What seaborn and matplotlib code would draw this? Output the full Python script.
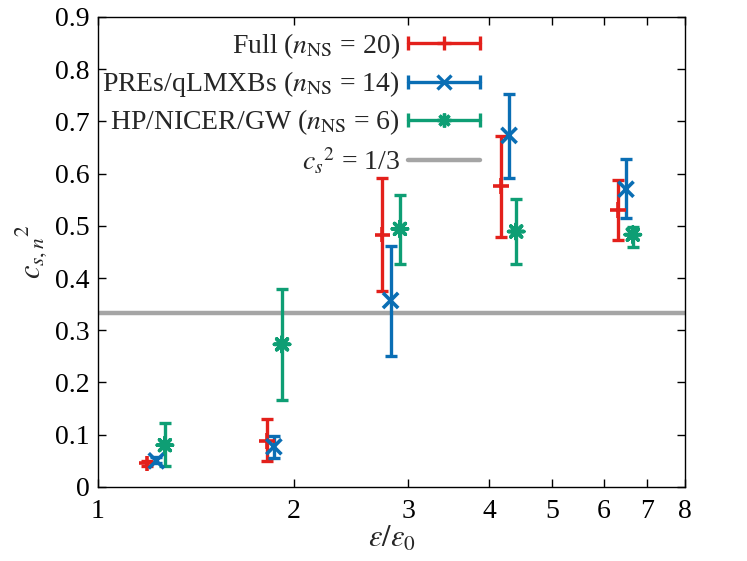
import numpy as np
import pandas as pd
import matplotlib
matplotlib.use("Agg")
import matplotlib.pyplot as plt
import seaborn as sns
from matplotlib.lines import Line2D
from matplotlib.legend_handler import HandlerLine2D, HandlerTuple

# ---------------- data ----------------
series = ["Full", "PREs/qLMXBs", "HP/NICER/GW"]
labels = [r"Full ($n_{\rm NS}$ = 20)",
          r"PREs/qLMXBs ($n_{\rm NS}$ = 14)",
          r"HP/NICER/GW ($n_{\rm NS}$ = 6)"]

x_full = [1.19, 1.82, 2.74, 4.17, 6.31]
y_full = [0.045, 0.088, 0.483, 0.576, 0.530]
lo_full = [0.040, 0.050, 0.375, 0.478, 0.473]
hi_full = [0.050, 0.130, 0.592, 0.672, 0.587]

x_pre = [1.23, 1.865, 2.82, 4.29, 6.49]
y_pre = [0.050, 0.077, 0.357, 0.673, 0.570]
lo_pre = [0.045, 0.055, 0.251, 0.591, 0.515]
hi_pre = [0.057, 0.098, 0.461, 0.753, 0.628]

x_hp = [1.268, 1.92, 2.915, 4.40, 6.65]
y_hp = [0.080, 0.273, 0.494, 0.489, 0.483]
lo_hp = [0.040, 0.167, 0.427, 0.427, 0.460]
hi_hp = [0.122, 0.379, 0.559, 0.551, 0.498]

cs2_conformal = 1.0 / 3.0
xticks = [1, 2, 3, 4, 5, 6, 7, 8]
yticks = [0, 0.1, 0.2, 0.3, 0.4, 0.5, 0.6, 0.7, 0.8, 0.9]

colors = ["#E3201B", "#0A6EB4", "#0E9E74"]
markers = ["+", "x", (8, 2, 0)]
grey = "#A5A5A5"

# ---------------- style ----------------
sns.set_theme(style="ticks")
plt.rcParams["font.family"] = "serif"
plt.rcParams["font.serif"] = ["Liberation Serif", "DejaVu Serif"]
plt.rcParams["mathtext.fontset"] = "stix"
plt.rcParams["axes.linewidth"] = 1.0

fig = plt.figure(figsize=(7.47, 5.61), dpi=100)
ax = fig.add_axes([0.131, 0.132, 0.786, 0.838])

data = {
    "Full": (x_full, y_full, lo_full, hi_full),
    "PREs/qLMXBs": (x_pre, y_pre, lo_pre, hi_pre),
    "HP/NICER/GW": (x_hp, y_hp, lo_hp, hi_hp),
}

frames = []
for s in series:
    xs, ys, lo, hi = data[s]
    frames.append(pd.DataFrame({"x": xs, "y": ys, "lo": lo, "hi": hi, "series": s}))
df = pd.concat(frames, ignore_index=True)

lw = 2.4
for s, c in zip(series, colors):
    d = df[df["series"] == s]
    yerr = np.vstack([d["y"] - d["lo"], d["hi"] - d["y"]])
    ax.errorbar(d["x"], d["y"], yerr=yerr, fmt="none", ecolor=c,
                elinewidth=lw, capsize=4.5, capthick=lw, zorder=3)

sns.scatterplot(data=df, x="x", y="y", hue="series", style="series",
                palette=dict(zip(series, colors)),
                markers=dict(zip(series, markers)),
                s=120, linewidth=2.6, legend=False, ax=ax, zorder=4)

ax.axhline(cs2_conformal, color=grey, lw=3.2, zorder=2)

ax.set_xscale("log")
ax.set_xlim(1, 8)
ax.set_ylim(0, 0.9)
ax.set_xticks(xticks)
ax.set_xticklabels([str(t) for t in xticks])
ax.xaxis.set_minor_locator(matplotlib.ticker.NullLocator())
ax.set_yticks(yticks)
ax.set_yticklabels(["0" if t == 0 else f"{t:.1f}" for t in yticks])
ax.tick_params(direction="in", length=6, width=1, top=True, right=True,
               labelsize=20, colors="black")
ax.tick_params(axis="x", pad=9)
ax.tick_params(axis="y", pad=6)
for sp in ax.spines.values():
    sp.set_color("black")
    sp.set_visible(True)

ax.set_xlabel(r"$\varepsilon/\varepsilon_0$", fontsize=22, labelpad=0)
ax.set_ylabel(r"$c_{s,n}{}^{2}$", fontsize=22, labelpad=4)

# ---------------- legend ----------------
handles = []
hmap = {}
for c, m in zip(colors, markers):
    caps = Line2D([], [], color=c, lw=lw, marker="|", markersize=10,
                  markeredgewidth=lw)
    center = Line2D([], [], color=c, lw=0, marker=m, markersize=10,
                    markeredgewidth=lw)
    hmap[caps] = HandlerLine2D(numpoints=2, marker_pad=0.0)
    hmap[center] = HandlerLine2D(numpoints=1)
    handles.append((caps, center))
hmap[tuple] = HandlerTuple(ndivide=1, pad=0)
gl = Line2D([], [], color=grey, lw=3.2)
handles.append(gl)
all_labels = labels + [r"$c_s{}^2$ = 1/3"]

leg = ax.legend(handles, all_labels, handler_map=hmap, loc="upper right",
                bbox_to_anchor=(0.68, 1.005), frameon=False, markerfirst=False,
                fontsize=20, handlelength=2.6, handletextpad=0.3,
                labelspacing=0.3, borderaxespad=0.2)

fig.savefig("out.png", dpi=100)
